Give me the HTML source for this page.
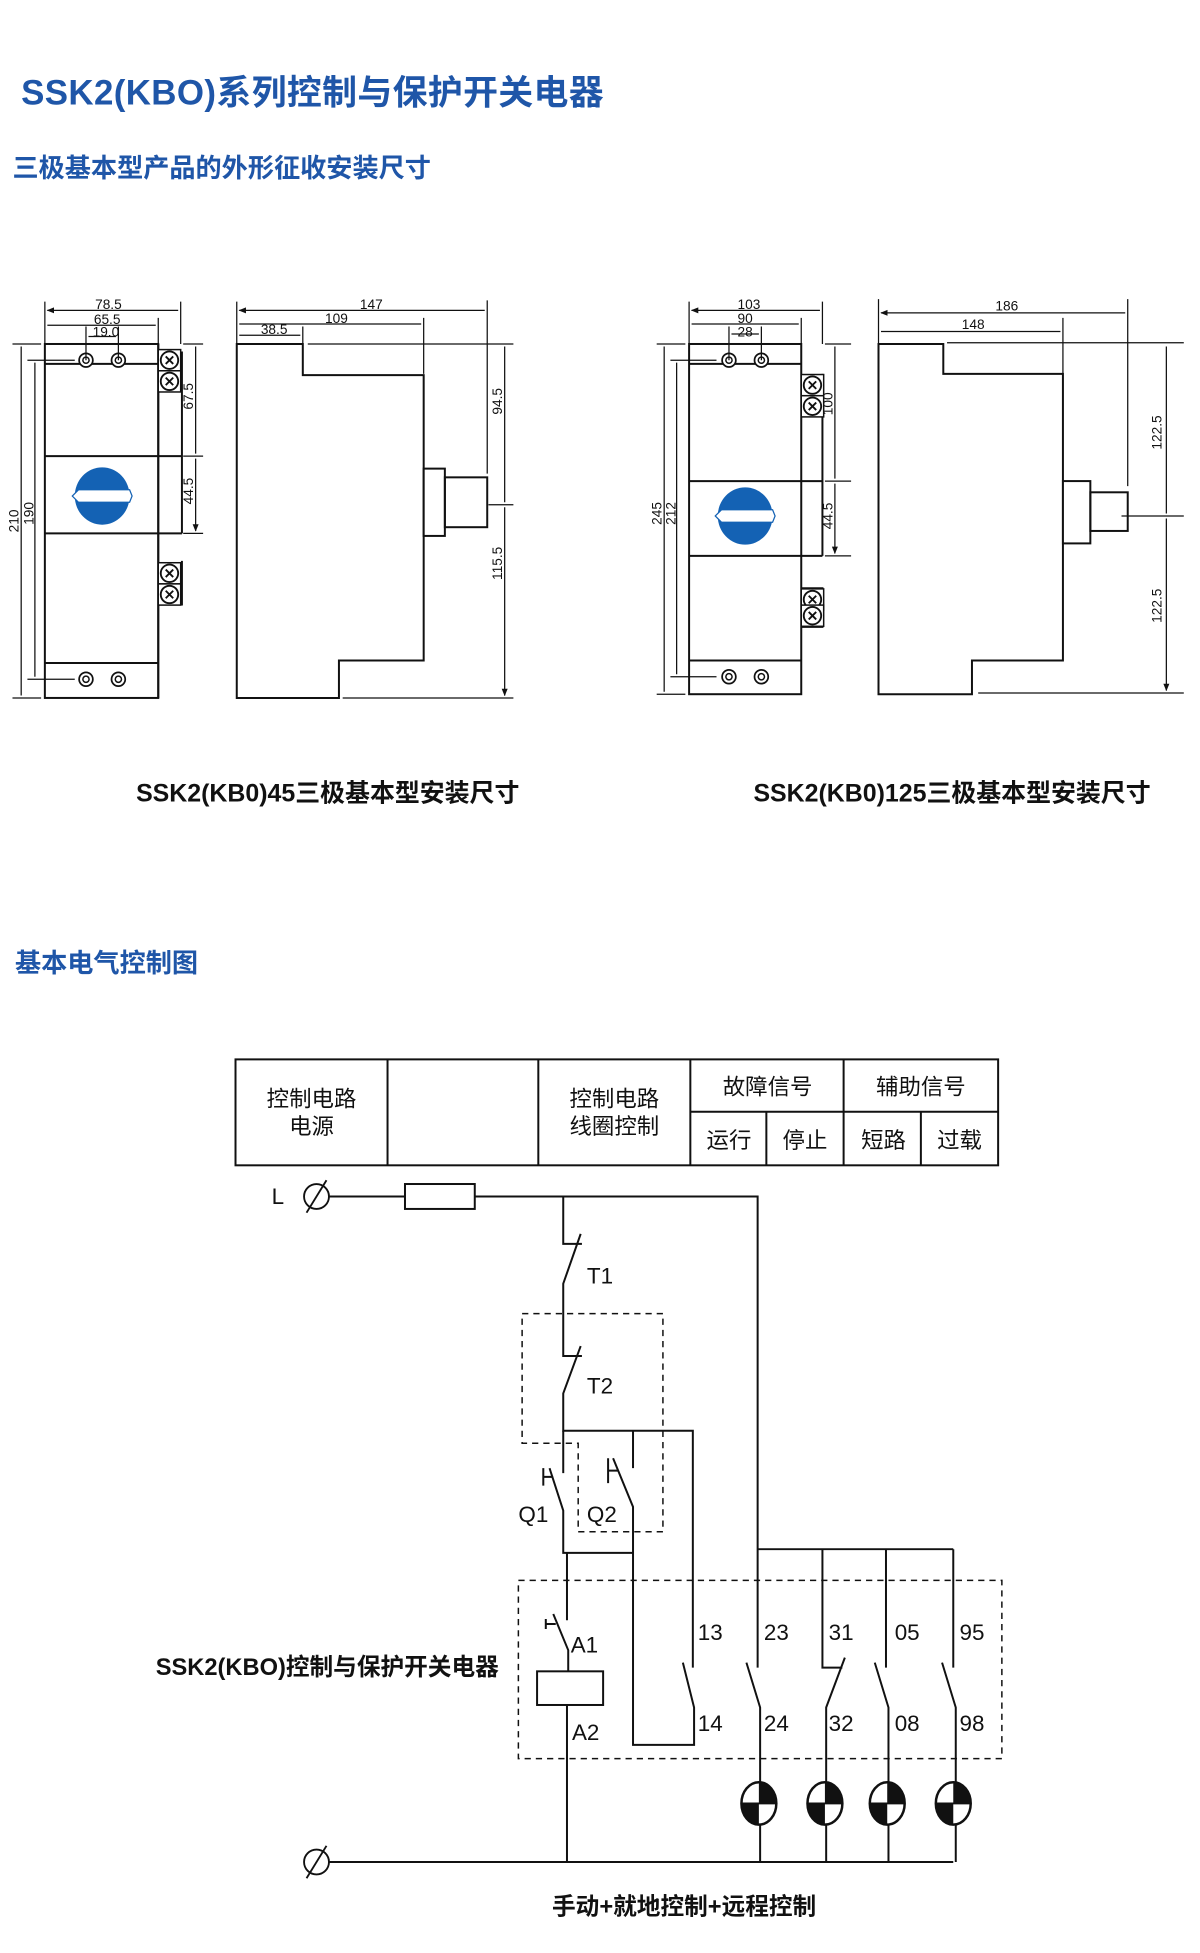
<!DOCTYPE html>
<html><head><meta charset="utf-8"><style>
html,body{margin:0;padding:0;background:#fff}
svg{display:block}
text{font-family:"Liberation Sans","Noto Sans CJK SC",sans-serif;fill:#111}
.b{fill:#1f56a8;font-weight:bold}
.d{font-size:11px}
.l{font-size:18px}
</style></head><body>
<svg width="1200" height="1953" viewBox="0 0 963 1567" preserveAspectRatio="none" xmlns="http://www.w3.org/2000/svg">
<defs>
<marker id="a" viewBox="0 0 10 10" refX="9" refY="5" markerWidth="6" markerHeight="6" orient="auto-start-reverse"><path d="M0,1 L10,5 L0,9 z" fill="#111"/></marker>
<g id="scr"><rect x="-9" y="-8.5" width="18" height="17" fill="#fff" stroke="#111" stroke-width="1.2"/><circle r="7" fill="#fff" stroke="#111" stroke-width="1.5"/><path d="M-3,-3 L3,3 M3,-3 L-3,3" stroke="#111" stroke-width="1.5"/></g>
<g id="hole"><circle r="5.5" fill="#fff" stroke="#111" stroke-width="1.4"/><circle r="2.5" fill="none" stroke="#111" stroke-width="1.2"/></g>
<g id="knob"><ellipse rx="22" ry="23" fill="#1462b4"/><path d="M-24,0 L-19,-5 L22,-5 L24,0 L22,5 L-19,5 z" fill="#fff" stroke="#1462b4" stroke-width="1"/></g>
<g id="lamp"><ellipse rx="14" ry="17" fill="#fff" stroke="#111" stroke-width="2"/><path d="M0,0 L0,-17 A14,17 0 0 1 14,0 z M0,0 L0,17 A14,17 0 0 1 -14,0 z" fill="#111"/><path d="M-14,0H14" stroke="#111" stroke-width="1.5"/></g>
<g id="term"><circle r="10" fill="none" stroke="#111" stroke-width="1.5"/><path d="M-8,13 L8,-13" stroke="#111" stroke-width="1.5"/></g>
</defs>

<text x="17" y="84" class="b" style="font-size:28px;letter-spacing:0.3px">SSK2(KBO)系列控制与保护开关电器</text>
<text x="10" y="142" class="b" style="font-size:21px">三极基本型产品的外形征收安装尺寸</text>

<g fill="none" stroke="#111" stroke-width="1.6">
<rect x="36" y="276" width="91" height="284"/>
<path d="M36,292H127M36,366H146M36,428H146M36,532H127M127,276V560M146,282V428"/>
<path d="M146,450V485H127"/>
</g>
<use href="#hole" x="69" y="289"/><use href="#hole" x="95" y="289"/>
<use href="#hole" x="69" y="545"/><use href="#hole" x="95" y="545"/>
<use href="#scr" x="136" y="289"/><use href="#scr" x="136" y="306"/>
<use href="#scr" x="136" y="460"/><use href="#scr" x="136" y="477"/>
<use href="#knob" x="82" y="398"/>
<g stroke="#111" stroke-width="1" fill="none">
<path d="M36,242V276M145,242V276M127,255V276M69,262V289M95,262V289M10,276H33M10,560H33M22,289H60M22,545H60M147,276H163M147,366H163M147,428H163"/>
<path d="M38,249H143M38,261H125M71,270H93M17,278V558M28,291V543M157,278V364M157,368V426" marker-start="url(#a)" marker-end="url(#a)"/>
</g>
<text x="87" y="248" class="d" text-anchor="middle">78.5</text>
<text x="86" y="260" class="d" text-anchor="middle">65.5</text>
<text x="85" y="270" class="d" text-anchor="middle">19.0</text>
<text transform="translate(15,418) rotate(-90)" class="d" text-anchor="middle">210</text>
<text transform="translate(27,412) rotate(-90)" class="d" text-anchor="middle">190</text>
<text transform="translate(155,318) rotate(-90)" class="d" text-anchor="middle">67.5</text>
<text transform="translate(155,394) rotate(-90)" class="d" text-anchor="middle">44.5</text>

<g fill="none" stroke="#111" stroke-width="1.6">
<path d="M190,276H243V301H340V530H272V560H190Z"/>
<rect x="340" y="376" width="17" height="54" fill="#fff"/><rect x="357" y="383" width="34" height="40"/>
</g>
<g stroke="#111" stroke-width="1" fill="none">
<path d="M190,242V276M391,241V380M340,255V300M243,262V276M247,276H412M392,405H412M275,560H412"/>
<path d="M192,249H389M192,260H338M192,269H241M405,278V403M405,407V558" marker-start="url(#a)" marker-end="url(#a)"/>
</g>
<text x="298" y="248" class="d" text-anchor="middle">147</text>
<text x="270" y="259" class="d" text-anchor="middle">109</text>
<text x="220" y="268" class="d" text-anchor="middle">38.5</text>
<text transform="translate(403,322) rotate(-90)" class="d" text-anchor="middle">94.5</text>
<text transform="translate(403,452) rotate(-90)" class="d" text-anchor="middle">115.5</text>

<g fill="none" stroke="#111" stroke-width="1.6">
<rect x="553" y="276" width="90" height="281"/>
<path d="M553,292H643M553,386H660M553,446H660M553,530H643M660,300V446"/>
<path d="M643,472H660V503H643"/>
</g>
<use href="#hole" x="585" y="289"/><use href="#hole" x="611" y="289"/>
<use href="#hole" x="585" y="543"/><use href="#hole" x="611" y="543"/>
<use href="#scr" x="652" y="309"/><use href="#scr" x="652" y="326"/>
<use href="#scr" x="652" y="481"/><use href="#scr" x="652" y="494"/>
<use href="#knob" x="598" y="414"/>
<g stroke="#111" stroke-width="1" fill="none">
<path d="M553,242V276M660,242V276M643,255V276M585,262V289M611,262V289M527,276H550M527,557H550M538,289H575M538,543H575M662,276H683M662,386H683M662,446H683"/>
<path d="M555,249H658M555,260H641M587,268H609M533,278V555M543,291V541M670,278V384M670,388V444" marker-start="url(#a)" marker-end="url(#a)"/>
</g>
<text x="601" y="248" class="d" text-anchor="middle">103</text>
<text x="598" y="259" class="d" text-anchor="middle">90</text>
<text x="598" y="270" class="d" text-anchor="middle">28</text>
<text transform="translate(531,412) rotate(-90)" class="d" text-anchor="middle">245</text>
<text transform="translate(542,412) rotate(-90)" class="d" text-anchor="middle">212</text>
<text transform="translate(668,324) rotate(-90)" class="d" text-anchor="middle">100</text>
<text transform="translate(668,414) rotate(-90)" class="d" text-anchor="middle">44.5</text>

<g fill="none" stroke="#111" stroke-width="1.6">
<path d="M705,276H757V300H853V530H780V557H705Z"/>
<rect x="853" y="386" width="22" height="50" fill="#fff"/><rect x="875" y="395" width="30" height="31"/>
</g>
<g stroke="#111" stroke-width="1" fill="none">
<path d="M705,240V300M905,240V390M853,255V300M760,275H950M900,414H950M785,556H950"/>
<path d="M707,251H903M707,266H851M936,278V412M936,416V554" marker-start="url(#a)" marker-end="url(#a)"/>
</g>
<text x="808" y="249" class="d" text-anchor="middle">186</text>
<text x="781" y="264" class="d" text-anchor="middle">148</text>
<text transform="translate(932,347) rotate(-90)" class="d" text-anchor="middle">122.5</text>
<text transform="translate(932,486) rotate(-90)" class="d" text-anchor="middle">122.5</text>

<text x="263" y="643" text-anchor="middle" style="font-size:20px;font-weight:bold">SSK2(KB0)45三极基本型安装尺寸</text>
<text x="764" y="643" text-anchor="middle" style="font-size:20px;font-weight:bold">SSK2(KB0)125三极基本型安装尺寸</text>

<text x="12" y="780" class="b" style="font-size:21px">基本电气控制图</text>

<g fill="none" stroke="#111" stroke-width="1.6">
<rect x="189" y="850" width="612" height="85"/>
<path d="M311,850V935M432,850V935M554,850V935M677,850V935M554,892H801M615,892V935M739,892V935"/>
</g>
<g class="l" text-anchor="middle">
<text x="250" y="888">控制电路</text><text x="250" y="910">电源</text>
<text x="493" y="888">控制电路</text><text x="493" y="910">线圈控制</text>
<text x="616" y="878">故障信号</text><text x="739" y="878">辅助信号</text>
<text x="585" y="921">运行</text><text x="646" y="921">停止</text>
<text x="709" y="921">短路</text><text x="770" y="921">过载</text>
</g>

<text x="218" y="966" class="l">L</text>
<use href="#term" x="254" y="960"/>
<use href="#term" x="254" y="1494"/>
<g fill="none" stroke="#111" stroke-width="1.6">
<rect x="325" y="950" width="56" height="20"/>
<path d="M264,960H325M381,960H608V1338M608,1243H765"/>
<path d="M452,960V998H467M466,990L452,1030V1088H467M466,1080L452,1118V1148H556V1338"/>
<path d="M452,1148V1182M441,1178L452,1212V1246H508M436,1178V1192M436,1185H444"/>
<path d="M508,1148V1178M492,1170L508,1209V1400H557V1370L548,1334M488,1170V1190M488,1180H496"/>
<path d="M455,1246V1300M444,1295L456,1324V1341M438,1299V1307M438,1303H446"/>
<rect x="431" y="1341" width="53" height="27"/>
<path d="M455,1368V1494M264,1494H765"/>
<path d="M599,1334L610,1370V1494"/>
<path d="M660,1243V1338H676M678,1330L663,1370V1494"/>
<path d="M711,1243V1338M702,1334L713,1370V1494"/>
<path d="M765,1243V1338M756,1334L767,1370V1494"/>
</g>
<g fill="none" stroke="#111" stroke-width="1.2" stroke-dasharray="5,4">
<path d="M419,1054H532V1229H464V1158H419Z"/>
<rect x="416" y="1268" width="388" height="143"/>
</g>
<use href="#lamp" x="609" y="1447"/><use href="#lamp" x="662" y="1447"/>
<use href="#lamp" x="712" y="1447"/><use href="#lamp" x="765" y="1447"/>
<g class="l">
<text x="471" y="1030">T1</text><text x="471" y="1118">T2</text>
<text x="416" y="1221">Q1</text><text x="471" y="1221">Q2</text>
<text x="458" y="1326">A1</text><text x="459" y="1396">A2</text>
<text x="560" y="1316">13</text><text x="613" y="1316">23</text><text x="665" y="1316">31</text><text x="718" y="1316">05</text><text x="770" y="1316">95</text>
<text x="560" y="1389">14</text><text x="613" y="1389">24</text><text x="665" y="1389">32</text><text x="718" y="1389">08</text><text x="770" y="1389">98</text>
</g>
<text x="125" y="1344" style="font-size:19px;font-weight:bold">SSK2(KBO)控制与保护开关电器</text>
<text x="549" y="1536" text-anchor="middle" style="font-size:19px;font-weight:bold">手动+就地控制+远程控制</text>
</svg>
</body></html>
